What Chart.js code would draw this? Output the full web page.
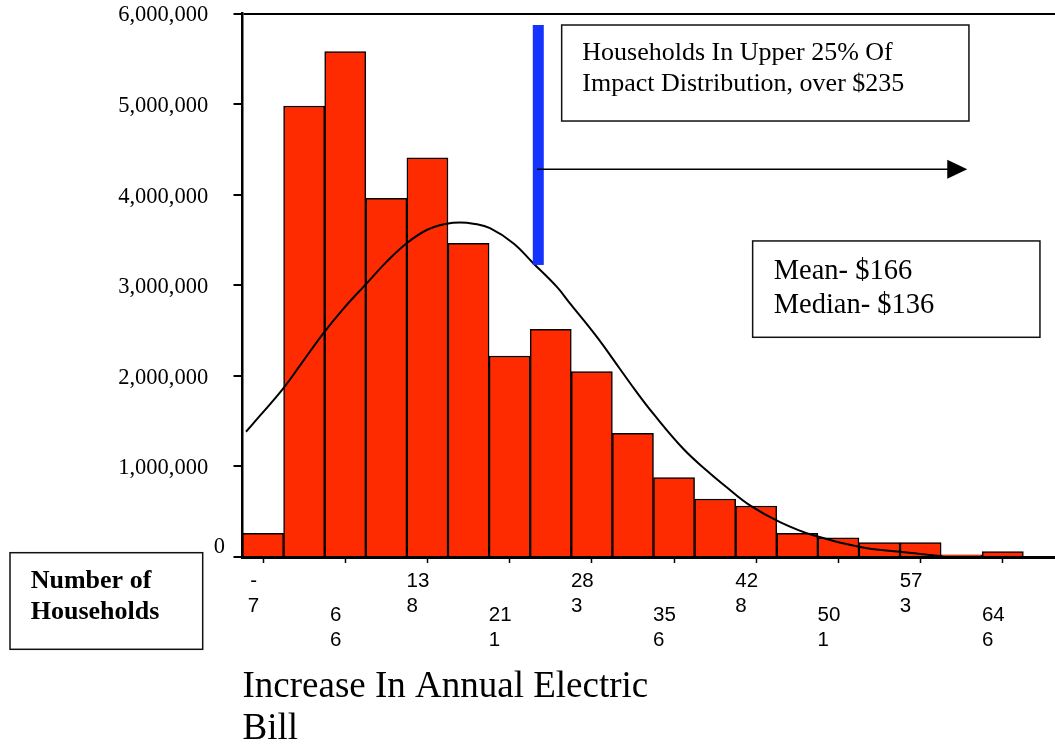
<!DOCTYPE html>
<html><head><meta charset="utf-8">
<script src="https://cdn.jsdelivr.net/npm/chart.js@4"></script>
<style>html,body{margin:0;padding:0;background:#fff}canvas{display:block}</style>
</head><body>
<canvas id="c" width="1055" height="746"></canvas>
<script>
// ---- data ----
const binIndex = [0,1,2,3,4,5,6,7,8,9,10,11,12,13,14,15,16,17,18];
const households = [261000, 4979000, 5579000, 3960000, 4408000, 3463000, 2219000, 2513000, 2046000, 1366000, 876000, 640000, 563000, 261000, 213000, 158000, 158000, 25000, 59000];
const tickBins = [0,2,4,6,8,10,12,14,16,18];
const tickLabels = ['-7','66','138','211','283','356','428','501','573','646'];
const curveBins = [-0.415,-0.074,0.493,0.940,1.466,1.953,2.522,3.009,3.495,3.982,4.468,4.80,5.115,5.522,6.089,6.575,7.145,7.468,8.118,8.685,9.091,9.495,10.225,10.794,11.281,11.848,12.578,13.388,14.524,15.496,16.226,16.47];
const curveValues = [1383000,1560000,1862000,2140000,2469000,2740000,3021000,3261000,3464000,3610000,3680000,3694000,3680000,3630000,3464000,3243000,2984000,2800000,2432000,2075000,1820000,1582000,1195000,955000,770000,570000,386000,240000,111000,57000,22000,11000];
const upperText = ['Households In Upper 25% Of', 'Impact Distribution, over $235'];
const statsText = ['Mean- $166', 'Median- $136'];
const yTitleText = ['Number of', 'Households'];
const xTitleText = ['Increase In Annual Electric', 'Bill'];

// ---- annotation placement (data units) ----
const ANN = {
  blue: {x: 6.697, y0: 3224000, y1: 5873000, w: 11},
  arrow: {x0: 6.665, x1: 17.135, y: 4280000},
  upperBox: {x0: 7.266, x1: 17.176, y0: 4813000, y1: 5873000},
  statsBox: {x0: 11.913, x1: 18.904, y0: 2425500, y1: 3489000}
};

const SERIF = '"Liberation Serif","Times New Roman",serif';
const SANS = '"Liberation Sans",Arial,sans-serif';

function splitLabel(s) {
  if (s.length === 3) return [s.slice(0,2), s.slice(2) + '\u2007'];
  return [s[0], s[1]];
}

const annPlugin = {
  id: 'ann',
  afterDatasetsDraw(chart) {
    const {ctx} = chart;
    const xs = chart.scales.x, ys = chart.scales.y;
    ctx.save();
    const b = ANN.blue;
    const bx = xs.getPixelForValue(b.x);
    const by0 = ys.getPixelForValue(b.y1), by1 = ys.getPixelForValue(b.y0);
    ctx.fillStyle = '#1433ff';
    ctx.fillRect(bx - b.w/2, by0, b.w, by1 - by0);
    const a = ANN.arrow;
    const ax0 = xs.getPixelForValue(a.x0), ax1 = xs.getPixelForValue(a.x1), ay = ys.getPixelForValue(a.y);
    ctx.strokeStyle = '#000'; ctx.lineWidth = 1.5;
    ctx.beginPath(); ctx.moveTo(ax0, ay); ctx.lineTo(ax1 - 19, ay); ctx.stroke();
    ctx.fillStyle = '#000';
    ctx.beginPath(); ctx.moveTo(ax1, ay); ctx.lineTo(ax1 - 20, ay - 9.5); ctx.lineTo(ax1 - 20, ay + 9.5); ctx.closePath(); ctx.fill();
    function box(bb, lines, font, dx, dy, lh) {
      const l = xs.getPixelForValue(bb.x0), r = xs.getPixelForValue(bb.x1);
      const t = ys.getPixelForValue(bb.y1), btm = ys.getPixelForValue(bb.y0);
      ctx.fillStyle = '#fff';
      ctx.fillRect(l, t, r - l, btm - t);
      ctx.strokeStyle = '#111'; ctx.lineWidth = 1.5;
      ctx.strokeRect(l, t, r - l, btm - t);
      ctx.fillStyle = '#000'; ctx.font = font; ctx.textAlign = 'left'; ctx.textBaseline = 'alphabetic';
      lines.forEach((s, i) => ctx.fillText(s, l + dx, t + dy + i * lh));
    }
    box(ANN.upperBox, upperText, '26px ' + SERIF, 20.6, 35.2, 31.2);
    box(ANN.statsBox, statsText, '28.5px ' + SERIF, 21, 38.5, 33.5);
    ctx.restore();
  },
  afterDraw(chart) {
    const {ctx} = chart;
    ctx.save();
    ctx.strokeStyle = '#111'; ctx.lineWidth = 1.5;
    ctx.strokeRect(10, 552.7, 192.7, 96.6);
    ctx.fillStyle = '#000'; ctx.font = 'bold 26px ' + SERIF; ctx.textAlign = 'left'; ctx.textBaseline = 'alphabetic';
    ctx.fillText(yTitleText[0], 30.7, 588.3);
    ctx.fillText(yTitleText[1], 30.7, 619);
    ctx.restore();
  }
};

new Chart(document.getElementById('c'), {
  type: 'bar',
  data: {
    datasets: [
      {
        type: 'line',
        data: curveBins.map((b, i) => ({x: b, y: curveValues[i]})),
        borderColor: '#000', borderWidth: 2, pointRadius: 0,
        tension: 0.4, fill: false, order: 1
      },
      {
        type: 'bar',
        data: binIndex.map((b, i) => ({x: b, y: households[i]})),
        backgroundColor: '#ff2b00', borderColor: '#000', borderWidth: 1.5,
        barPercentage: 1, categoryPercentage: 1, order: 2
      }
    ]
  },
  options: {
    responsive: false, animation: false, devicePixelRatio: 1,
    layout: {padding: {top: 13.5, left: 0, right: 0, bottom: 0}},
    plugins: {legend: {display: false}, tooltip: {enabled: false}},
    scales: {
      x: {
        type: 'linear', min: -0.5, max: 19.27, offset: false,
        grid: {offset: false, drawOnChartArea: false, drawTicks: true, tickLength: 6, tickColor: '#000', tickWidth: 1.5},
        border: {display: true, color: '#000', width: 3},
        afterBuildTicks: s => { s.ticks = tickBins.map(v => ({value: v})); },
        afterFit: s => { s.height = 189; s.paddingLeft = 0; s.paddingRight = 0; },
        ticks: {
          autoSkip: false, maxRotation: 0, minRotation: 0, padding: 13.75, labelOffset: -9.5,
          color: '#000', font: {family: SANS, size: 20.5, lineHeight: '8.5px'},
          callback: (v, i) => {
            const k = tickBins.indexOf(v);
            if (k < 0) return '';
            const [l1, l2] = splitLabel(tickLabels[k]);
            return k % 2 === 0 ? [l1, '', '', l2] : ['', '', '', '', l1, '', '', l2];
          }
        },
        title: {
          display: true, text: xTitleText, align: 'start', color: '#000',
          font: {family: SERIF, size: 37, lineHeight: '41.7px'},
          padding: {top: 0, bottom: -4}
        }
      },
      y: {
        min: 0, max: 6000000,
        grid: {
          color: c => (c.tick && c.tick.value === 6000000) ? '#000' : 'rgba(0,0,0,0)',
          lineWidth: 2, drawTicks: true, tickLength: 9, tickColor: '#000', tickWidth: 2
        },
        border: {display: true, color: '#000', width: 2.5},
        afterFit: s => { s.width = 242.5; s.paddingTop = 0; s.paddingBottom = 0; },
        ticks: {
          stepSize: 1000000, padding: 8.5, labelOffset: 2, color: '#000',
          font: {family: SERIF, size: 22.5, lineHeight: '24px'},
          callback: v => v === 0 ? ['0', ''] : v.toLocaleString('en-US') + '   '
        }
      }
    }
  },
  plugins: [annPlugin]
});
</script>
</body></html>
